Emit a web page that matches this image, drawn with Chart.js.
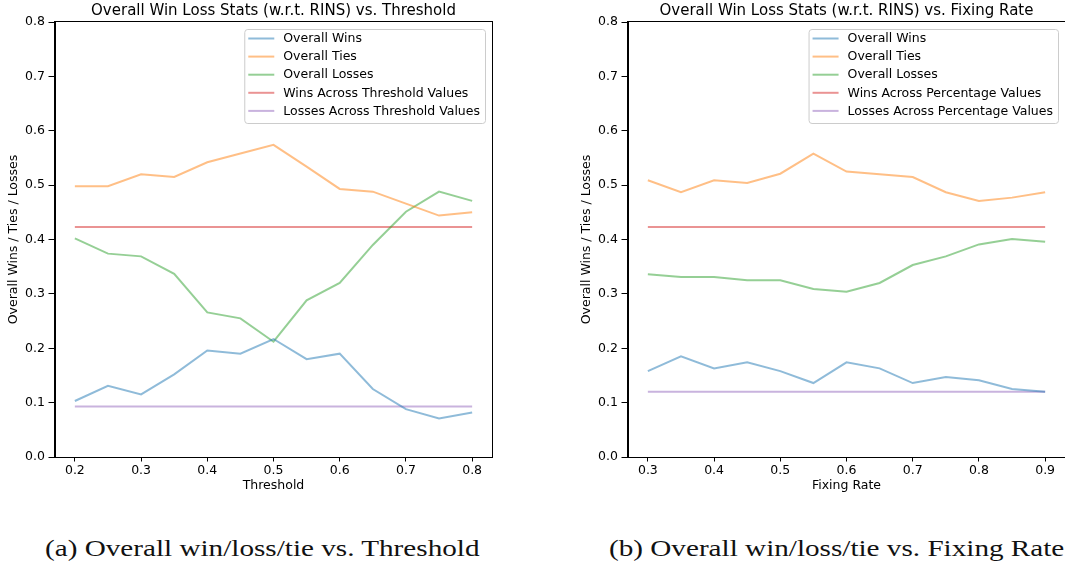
<!DOCTYPE html>
<html>
<head>
<meta charset="utf-8">
<script src="https://cdn.jsdelivr.net/npm/chart.js@4.4.1/dist/chart.umd.min.js"></script>
<style>
    body { margin: 0; width: 1065px; height: 567px; overflow: hidden; background: #fff; position: relative; }
    .panel { position: absolute; top: 0; width: 547px; height: 495px; }
    .caption { position: absolute; top: 535px; font-family: "Liberation Serif", "DejaVu Serif", serif; font-size: 23px; line-height: 28px; white-space: nowrap; color: #111; transform-origin: 0 0; }
</style>
</head>
<body>
<div class="panel" style="left:0"><canvas id="thresholdChart" width="547" height="495"></canvas></div>
<div class="panel" style="left:573px"><canvas id="fixingChart" width="547" height="495"></canvas></div>
<div class="caption" id="capA" style="left:45px">(a) Overall win/loss/tie vs. Threshold</div>
<div class="caption" id="capB" style="left:609px">(b) Overall win/loss/tie vs. Fixing Rate</div>
<script>
// values
const yTicks = [0.0, 0.1, 0.2, 0.3, 0.4, 0.5, 0.6, 0.7, 0.8];

const thresholds = [0.2, 0.25, 0.3, 0.35, 0.4, 0.45, 0.5, 0.55, 0.6, 0.65, 0.7, 0.75, 0.8];
const thresholdTicks = [0.2, 0.3, 0.4, 0.5, 0.6, 0.7, 0.8];
const thresholdWins = [0.103, 0.131, 0.115, 0.152, 0.196, 0.190, 0.217, 0.180, 0.190, 0.125, 0.088, 0.071, 0.082];
const thresholdTies = [0.498, 0.498, 0.520, 0.515, 0.542, 0.558, 0.574, 0.534, 0.493, 0.488, 0.466, 0.444, 0.450];
const thresholdLosses = [0.402, 0.374, 0.369, 0.337, 0.266, 0.255, 0.212, 0.288, 0.320, 0.390, 0.451, 0.488, 0.471];
const thresholdWinsAcross = [0.423, 0.423, 0.423, 0.423, 0.423, 0.423, 0.423, 0.423, 0.423, 0.423, 0.423, 0.423, 0.423];
const thresholdLossesAcross = [0.093, 0.093, 0.093, 0.093, 0.093, 0.093, 0.093, 0.093, 0.093, 0.093, 0.093, 0.093, 0.093];

const fixingRates = [0.3, 0.35, 0.4, 0.45, 0.5, 0.55, 0.6, 0.65, 0.7, 0.75, 0.8, 0.85, 0.9];
const fixingTicks = [0.3, 0.4, 0.5, 0.6, 0.7, 0.8, 0.9];
const fixingWins = [0.158, 0.185, 0.163, 0.174, 0.158, 0.136, 0.174, 0.163, 0.136, 0.147, 0.141, 0.125, 0.120];
const fixingTies = [0.509, 0.487, 0.509, 0.504, 0.521, 0.558, 0.525, 0.520, 0.515, 0.487, 0.471, 0.477, 0.487];
const fixingLosses = [0.336, 0.331, 0.331, 0.325, 0.325, 0.309, 0.304, 0.320, 0.353, 0.369, 0.391, 0.401, 0.396];
const fixingWinsAcross = [0.423, 0.423, 0.423, 0.423, 0.423, 0.423, 0.423, 0.423, 0.423, 0.423, 0.423, 0.423, 0.423];
const fixingLossesAcross = [0.120, 0.120, 0.120, 0.120, 0.120, 0.120, 0.120, 0.120, 0.120, 0.120, 0.120, 0.120, 0.120];

// matplotlib tab10 at alpha 0.5
const seriesColors = [
    'rgba(31, 119, 180, 0.5)',
    'rgba(255, 127, 14, 0.5)',
    'rgba(44, 160, 44, 0.5)',
    'rgba(214, 39, 40, 0.5)',
    'rgba(148, 103, 189, 0.5)'
];

const FONT = '"DejaVu Sans", sans-serif';

function toPoints(xs, ys) {
    return xs.map((x, i) => ({ x: x, y: ys[i] }));
}

// axes frame, title and the in-plot legend, drawn the matplotlib way
const axesDecor = {
    id: 'axesDecor',
    afterDraw(chart, args, opts) {
        const { ctx, chartArea } = chart;
        ctx.save();
        ctx.strokeStyle = '#000';
        ctx.lineWidth = 1;
        ctx.strokeRect(Math.round(chartArea.left) - 0.5, Math.round(chartArea.top) - 0.5,
            Math.round(chartArea.right - chartArea.left) + 1, Math.round(chartArea.bottom - chartArea.top) + 1);

        // title
        ctx.fillStyle = '#000';
        ctx.font = '15px ' + FONT;
        ctx.textAlign = 'center';
        ctx.textBaseline = 'middle';
        ctx.fillText(opts.title, (chartArea.left + chartArea.right) / 2, 11);

        // legend
        ctx.font = '12.5px ' + FONT;
        ctx.textAlign = 'left';
        const items = chart.data.datasets;
        const textW = Math.max(...items.map(d => ctx.measureText(d.label).width));
        const w = 39 + textW + 5;
        const h = 94;
        const x = chartArea.right - 7 - w;
        const y = chartArea.top + 7;
        ctx.beginPath();
        ctx.roundRect(x + 0.5, y + 0.5, w, h, 3);
        ctx.fillStyle = 'rgba(255, 255, 255, 0.8)';
        ctx.fill();
        ctx.strokeStyle = '#cccccc';
        ctx.stroke();
        items.forEach((d, i) => {
            const ly = y + 9.5 + i * 18.1;
            ctx.beginPath();
            ctx.moveTo(x + 4, ly);
            ctx.lineTo(x + 30, ly);
            ctx.strokeStyle = d.borderColor;
            ctx.lineWidth = 2;
            ctx.stroke();
            ctx.fillStyle = '#000';
            ctx.fillText(d.label, x + 39, ly + 0.5);
        });
        ctx.restore();
    }
};

function makeChart(canvasId, xs, xTicks, xMin, xMax, xLabel, title, series, labels) {
    const ctx = document.getElementById(canvasId).getContext('2d');
    return new Chart(ctx, {
        type: 'line',
        data: {
            datasets: series.map((ys, i) => ({
                label: labels[i],
                data: toPoints(xs, ys),
                borderColor: seriesColors[i],
                backgroundColor: seriesColors[i],
                borderWidth: 2,
                pointRadius: 0,
                tension: 0,
                fill: false
            }))
        },
        options: {
            responsive: false,
            animation: false,
            layout: { padding: { left: 0, right: 55, top: 22, bottom: 0 } },
            scales: {
                x: {
                    type: 'linear',
                    min: xMin,
                    max: xMax,
                    afterBuildTicks: scale => { scale.ticks = xTicks.map(v => ({ value: v })); },
                    afterFit: scale => { scale.height = 38; },
                    grid: { drawOnChartArea: false, tickLength: 4.5, color: '#000', tickWidth: 1 },
                    border: { color: '#000', width: 1 },
                    ticks: {
                        color: '#000',
                        padding: 2,
                        maxRotation: 0,
                        font: { family: FONT, size: 12.5 },
                        callback: v => v.toFixed(1)
                    },
                    title: {
                        display: true,
                        text: xLabel,
                        color: '#000',
                        padding: { top: 0, bottom: 1.5 },
                        font: { family: FONT, size: 12.5 }
                    }
                },
                y: {
                    min: 0,
                    max: 0.8,
                    afterBuildTicks: scale => { scale.ticks = yTicks.map(v => ({ value: v })); },
                    afterFit: scale => { scale.width = 55; },
                    grid: { drawOnChartArea: false, tickLength: 6.5, color: '#000', tickWidth: 1 },
                    border: { color: '#000', width: 1 },
                    ticks: {
                        color: '#000',
                        padding: 3.5,
                        font: { family: FONT, size: 12.5 },
                        callback: v => v.toFixed(1)
                    },
                    title: {
                        display: true,
                        text: 'Overall Wins / Ties / Losses',
                        color: '#000',
                        padding: { top: 6.5, bottom: 0 },
                        font: { family: FONT, size: 12.5 }
                    }
                }
            },
            plugins: {
                legend: { display: false },
                tooltip: { enabled: false },
                axesDecor: { title: title }
            }
        },
        plugins: [axesDecor]
    });
}

makeChart('thresholdChart', thresholds, thresholdTicks, 0.17, 0.83, 'Threshold',
    'Overall Win Loss Stats (w.r.t. RINS) vs. Threshold',
    [thresholdWins, thresholdTies, thresholdLosses, thresholdWinsAcross, thresholdLossesAcross],
    ['Overall Wins', 'Overall Ties', 'Overall Losses', 'Wins Across Threshold Values', 'Losses Across Threshold Values']);

makeChart('fixingChart', fixingRates, fixingTicks, 0.27, 0.93, 'Fixing Rate',
    'Overall Win Loss Stats (w.r.t. RINS) vs. Fixing Rate',
    [fixingWins, fixingTies, fixingLosses, fixingWinsAcross, fixingLossesAcross],
    ['Overall Wins', 'Overall Ties', 'Overall Losses', 'Wins Across Percentage Values', 'Losses Across Percentage Values']);

// stretch captions to the width they take in the figure
const capA = document.getElementById('capA');
const capScale = 435 / capA.offsetWidth;
capA.style.transform = 'scaleX(' + capScale + ')';
document.getElementById('capB').style.transform = 'scaleX(' + capScale + ')';
</script>
</body>
</html>
